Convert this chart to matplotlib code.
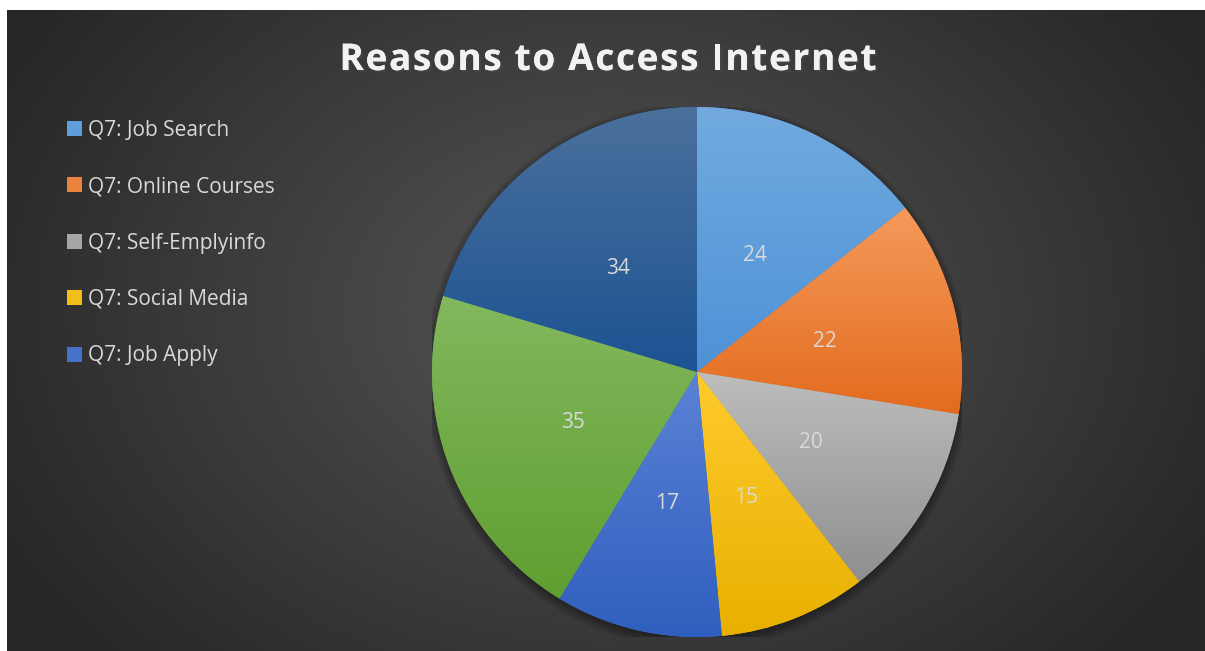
import numpy as np
import matplotlib
matplotlib.use("Agg")
import matplotlib.pyplot as plt
import matplotlib.patheffects as pe
from matplotlib.colors import LinearSegmentedColormap
from matplotlib.patches import Circle

# data
labels = ["Q7: Job Search", "Q7: Online Courses", "Q7: Self-Emplyinfo",
          "Q7: Social Media", "Q7: Job Apply", "Q7: Other", "Q7: Other 2"]
values = [24, 22, 20, 15, 17, 35, 34]
legend_count = 5  # only the first five entries fit in the legend box
title = "Reasons to Access Internet"

# top / bottom colour of each slice gradient
tops = ["#72aae0", "#f59a5c", "#bdbdbd", "#ffcb2e", "#5b82d6", "#82b85e", "#4b709c"]
bottoms = ["#4d92d6", "#e36b1d", "#8f8f8f", "#e8b000", "#2f5fbe", "#5f9f30", "#1c5393"]

W, H = 1205, 651
fig = plt.figure(figsize=(W / 100, H / 100), dpi=100)
fig.patch.set_facecolor("white")

# dark radial background
bg = fig.add_axes([7 / W, 0, (W - 7) / W, (H - 10) / H])
bg.set_axis_off()
yy, xx = np.mgrid[0:641, 0:1198]
cx, cy = 600, 300
r = np.sqrt(((xx - cx) / 700.0) ** 2 + ((yy - cy) / 520.0) ** 2)
r = np.clip(r, 0, 1)
bg_cmap = LinearSegmentedColormap.from_list("bg", ["#565656", "#3e3e3e", "#262626"])
bg.imshow(r, cmap=bg_cmap, vmin=0, vmax=1, aspect="auto", interpolation="bilinear")

# pie
cxp, cyp, rad = 697, 372, 265
ax = fig.add_axes([(cxp - rad) / W, (H - cyp - rad) / H, 2 * rad / W, 2 * rad / H])
ax.set_xlim(-1, 1)
ax.set_ylim(-1, 1)
ax.set_axis_off()

# soft shadow under the pie
for k in range(6):
    ax.add_patch(Circle((0, -0.012), 1.0 + 0.006 * k, color="black",
                        alpha=0.06, zorder=0, lw=0))

wedges, texts = ax.pie(values, radius=1, startangle=90, counterclock=False,
                       labels=[str(v) for v in values], labeldistance=0.5,
                       colors=[c for c in bottoms],
                       textprops=dict(color="#d9d9d9", fontsize=15,
                                      family="Open Sans", ha="center",
                                      va="center_baseline"),
                       wedgeprops=dict(linewidth=0))
for t in texts:
    t.set_zorder(5)

# vertical gradient in each wedge, light at the top
grad = np.linspace(0, 1, 256).reshape(-1, 1)
for w, top, bot in zip(wedges, tops, bottoms):
    cm = LinearSegmentedColormap.from_list("g", [top, bot])
    ext = w.get_path().get_extents(w.get_patch_transform())
    im = ax.imshow(grad, cmap=cm, origin="upper",
                   extent=[ext.x0, ext.x1, ext.y0, ext.y1],
                   aspect="auto", zorder=2, interpolation="bilinear")
    im.set_clip_path(w)
ax.set_xlim(-1, 1)
ax.set_ylim(-1, 1)

# legend swatches use mid colours
for w, top, bot in zip(wedges, tops, bottoms):
    c1 = np.array(matplotlib.colors.to_rgb(top))
    c2 = np.array(matplotlib.colors.to_rgb(bot))
    w.set_facecolor((c1 + c2) / 2)

fig.legend(wedges[:legend_count], labels[:legend_count], loc="upper left",
           bbox_to_anchor=(48 / W, 1 - 101 / H), frameon=False,
           handlelength=0.72, handleheight=0.72, handletextpad=0.3,
           labelspacing=1.7, prop=dict(family="Open Sans", size=15),
           labelcolor="#d9d9d9")

# letter-spaced title, one glyph at a time
tprops = dict(color="#f2f2f2", fontsize=26.5, fontweight="bold", family="Open Sans",
              va="center", ha="left")
renderer = fig.canvas.get_renderer()


def text_width(s):
    t = fig.text(0, 0, s + "l", **tprops)
    w = t.get_window_extent(renderer).width
    t.remove()
    return w


base = text_width("")
offsets = [text_width(title[:i]) - base for i in range(len(title) + 1)]
track = (537 - offsets[-1]) / (len(title) - 1)
x0 = 608 - (offsets[-1] + track * (len(title) - 1)) / 2
for i, ch in enumerate(title):
    if ch == " ":
        continue
    fig.text((x0 + offsets[i] + track * i) / W, 1 - 60 / H, ch, **tprops,
             path_effects=[pe.withSimplePatchShadow(offset=(1.5, -1.5), alpha=0.6),
                           pe.Normal()])

fig.savefig("out.png", dpi=100)
